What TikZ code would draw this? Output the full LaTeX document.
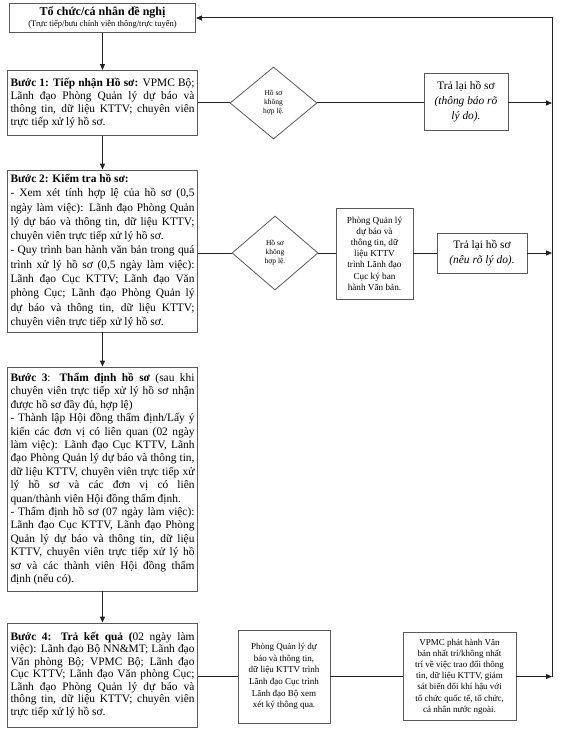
\documentclass[tikz,border=0pt]{standalone}
\usepackage{fontspec}
\setmainfont{Liberation Serif}
\usetikzlibrary{shapes.geometric,arrows.meta}
\definecolor{boxc}{HTML}{5A5A5A}
\definecolor{linec}{HTML}{222222}
\hyphenpenalty=10000
\exhyphenpenalty=10000
\begin{document}
\begin{tikzpicture}[x=1pt,y=-1pt,
  box/.style={draw=boxc, line width=0.9pt, rectangle, inner sep=0pt, anchor=center, align=center},
  stepbox/.style={box, text width=184pt, inner xsep=3pt, inner ysep=0pt, align=justify, minimum width=190pt},
  dia/.style={draw=boxc, line width=0.8pt, diamond, inner sep=0pt, align=center, font=\fontsize{7.5}{9}\selectfont},
  conn/.style={draw=linec, line width=1pt},
  arr/.style={conn, -{Triangle[length=6pt,width=5pt]}}
]
\useasboundingbox (0,0) rectangle (576,735);

% top box
\node[box, minimum width=186pt, minimum height=29pt] (top) at (102.5,18)
  {{\fontsize{12}{14}\selectfont\bfseries Tổ chức/cá nhân đề nghị}\\[-1pt]
   {\fontsize{8.5}{10}\selectfont (Trực tiếp/bưu chính viễn thông/trực tuyến)}};

% step 1
\node[stepbox, minimum height=65pt, font=\fontsize{11.4}{13.1}\selectfont] (s1) at (102.5,103)
  {\textbf{Bước 1: Tiếp nhận Hồ sơ:} VPMC Bộ;\linebreak
   Lãnh đạo Phòng Quản lý dự báo và\linebreak
   thông tin, dữ liệu KTTV; chuyên viên\linebreak
   trực tiếp xử lý hồ sơ.};

% step 2
\node[stepbox, minimum height=162pt, font=\fontsize{11.4}{14.3}\selectfont] (s2) at (102.5,251)
  {\textbf{Bước 2: Kiểm tra hồ sơ:}\par
   - Xem xét tính hợp lệ của hồ sơ (0,5\linebreak
   ngày làm việc): Lãnh đạo Phòng Quản\linebreak
   lý dự báo và thông tin, dữ liệu KTTV;\linebreak
   chuyên viên trực tiếp xử lý hồ sơ.\par
   - Quy trình ban hành văn bản trong quá\linebreak
   trình xử lý hồ sơ (0,5 ngày làm việc):\linebreak
   Lãnh đạo Cục KTTV; Lãnh đạo Văn\linebreak
   phòng Cục; Lãnh đạo Phòng Quản lý\linebreak
   dự báo và thông tin, dữ liệu KTTV;\linebreak
   chuyên viên trực tiếp xử lý hồ sơ.};

% step 3
\node[stepbox, minimum height=224pt, font=\fontsize{11.4}{13.4}\selectfont] (s3) at (102.5,479)
  {\textbf{Bước 3}: \textbf{Thẩm định hồ sơ} (sau khi\linebreak
   chuyên viên trực tiếp xử lý hồ sơ nhận\linebreak
   được hồ sơ đầy đủ, hợp lệ)\par
   - Thành lập Hội đồng thẩm định/Lấy ý\linebreak
   kiến các đơn vị có liên quan (02 ngày\linebreak
   làm việc): Lãnh đạo Cục KTTV, Lãnh\linebreak
   đạo Phòng Quản lý dự báo và thông tin,\linebreak
   dữ liệu KTTV, chuyên viên trực tiếp xử\linebreak
   lý hồ sơ và các đơn vị có liên\linebreak
   quan/thành viên Hội đồng thẩm định.\par
   - Thẩm định hồ sơ (07 ngày làm việc):\linebreak
   Lãnh đạo Cục KTTV, Lãnh đạo Phòng\linebreak
   Quản lý dự báo và thông tin, dữ liệu\linebreak
   KTTV, chuyên viên trực tiếp xử lý hồ\linebreak
   sơ và các thành viên Hội đồng thẩm\linebreak
   định (nếu có).};

% step 4
\node[stepbox, minimum height=104pt, font=\fontsize{11.4}{12.5}\selectfont] (s4) at (102.5,675)
  {\textbf{Bước 4: Trả kết quả (}02 ngày làm\linebreak
   việc): Lãnh đạo Bộ NN\&MT; Lãnh đạo\linebreak
   Văn phòng Bộ; VPMC Bộ; Lãnh đạo\linebreak
   Cục KTTV; Lãnh đạo Văn phòng Cục;\linebreak
   Lãnh đạo Phòng Quản lý dự báo và\linebreak
   thông tin, dữ liệu KTTV; chuyên viên\linebreak
   trực tiếp xử lý hồ sơ.};

% row 1
\node[dia, minimum width=87pt, minimum height=72pt] (d1) at (273.5,103)
  {Hồ sơ\\không\\hợp lệ.};
\node[box, minimum width=84pt, minimum height=57pt, font=\fontsize{11.4}{15}\selectfont] (r1) at (466,102)
  {Trả lại hồ sơ\\\textit{(thông báo rõ}\\\textit{lý do).}};

% row 2
\node[dia, minimum width=86pt, minimum height=74pt] (d2) at (275,253)
  {Hồ sơ\\không\\hợp lệ.};
\node[box, minimum width=77pt, minimum height=91pt, font=\fontsize{9.2}{11.2}\selectfont] (m2) at (374.5,253.5)
  {Phòng Quản lý\\dự báo và\\thông tin, dữ\\liệu KTTV\\trình Lãnh đạo\\Cục ký ban\\hành Văn bản.};
\node[box, minimum width=90pt, minimum height=40pt, font=\fontsize{11.4}{15}\selectfont] (r2) at (482,253)
  {Trả lại hồ sơ\\\textit{(nêu rõ lý do).}};

% row 4
\node[box, minimum width=92pt, minimum height=93pt, font=\fontsize{9}{11.6}\selectfont] (b1) at (284,676.5)
  {Phòng Quản lý dự\\báo và thông tin,\\dữ liệu KTTV trình\\Lãnh đạo Cục trình\\Lãnh đạo Bộ xem\\xét ký thông qua.};
\node[box, minimum width=113pt, minimum height=88pt, font=\fontsize{9}{11.2}\selectfont] (b2) at (459.5,676.5)
  {VPMC phát hành Văn\\bản nhất trí/không nhất\\trí về việc trao đổi thông\\tin, dữ liệu KTTV, giám\\sát biến đổi khí hậu với\\tổ chức quốc tế, tổ chức,\\cá nhân nước ngoài.};

% right line coordinates
\coordinate (etop) at (552,18);
\coordinate (e1) at (552,103);
\coordinate (e2) at (552,253);
\coordinate (e4) at (552,676.5);

% vertical flow
\draw[arr] (top.south) -- (s1.north);
\draw[arr] (s1.south) -- (s2.north);
\draw[arr] (s2.south) -- (s3.north);
\draw[arr] (s3.south) -- (s4.north);

% row 1 connectors
\draw[conn] (s1.east) -- (d1.west);
\draw[conn] (d1.east) -- (d1.east -| r1.west);
\draw[arr] (d1.east -| r1.east) -- (e1);

% row 2 connectors
\draw[conn] (d2.west -| s2.east) -- (d2.west);
\draw[conn] (d2.east) -- (m2.west |- d2.east);
\draw[conn] (m2.east |- r2.west) -- (r2.west);
\draw[arr] (r2.east) -- (e2);

% row 4 connectors
\draw[conn] (b1.west -| s4.east) -- (b1.west);
\draw[conn] (b1.east) -- (b2.west);
\draw[arr] (b2.east) -- (e4);

% return line
\draw[arr] (e4) -- (etop) -- (top.east);
\end{tikzpicture}
\end{document}
